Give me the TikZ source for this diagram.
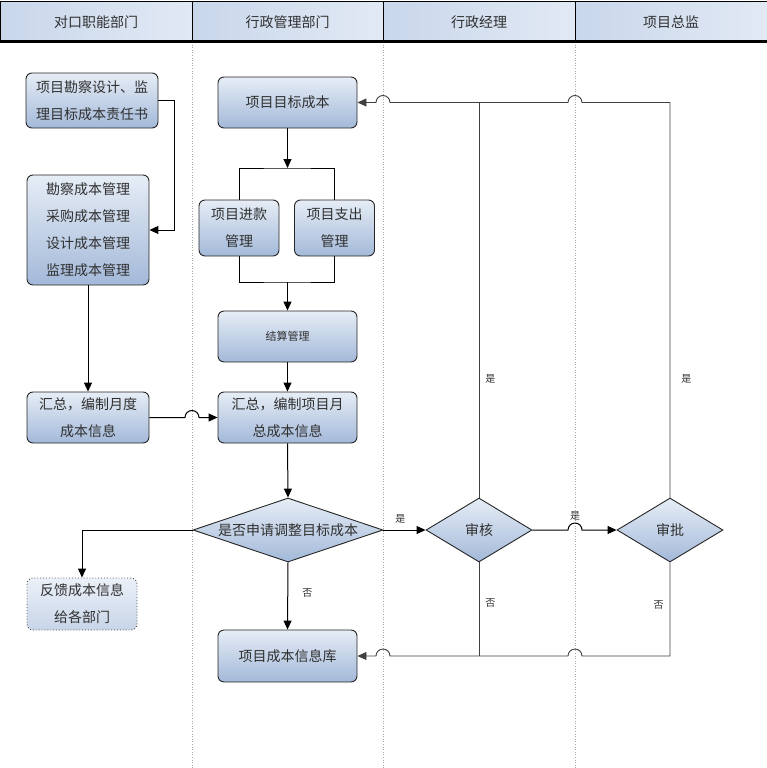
\documentclass[tikz,border=0pt]{standalone}
\usepackage{fontspec}
\setmainfont{Noto Sans CJK SC}
\usetikzlibrary{positioning, arrows.meta, shapes.geometric}

\definecolor{boxtop}{HTML}{E6EDF6}
\definecolor{boxbot}{HTML}{A3B9D9}
\definecolor{headtop}{HTML}{C9D7EB}
\definecolor{txt}{HTML}{303030}

\tikzset{
  box/.style={draw=black!85, line width=0.9pt, rounded corners=6pt,
    top color=boxtop, bottom color=boxbot, text=txt, align=center,
    inner sep=0pt, font=\fontsize{14}{27}\selectfont},
  choice/.style={diamond, draw=black!85, line width=0.9pt,
    top color=boxtop, bottom color=boxbot, text=txt, inner sep=0pt,
    font=\fontsize{14}{17}\selectfont},
  head/.style={draw=black, line width=1pt, left color=headtop, right color=headtop!55!white,
    minimum height=40pt, inner sep=0pt, text=txt, font=\fontsize{14}{16}\selectfont},
  flow/.style={->, line width=1pt},
  back/.style={line width=0.9pt, draw=black!75},
  tag/.style={text=txt, font=\fontsize{10}{12}\selectfont, inner sep=0pt},
  lane/.style={draw=black!35, dotted, line width=0.6pt},
}

\begin{document}
\begin{tikzpicture}[x=1pt, y=1pt, >={Triangle[length=9pt,width=8pt]}]
    \useasboundingbox (0,0) rectangle (767,-768);

    % Lanes
    \foreach \lx in {192, 383, 575}
      \draw[lane] (\lx,-42) -- (\lx,-768);

    % Header
    \node[head, minimum width=192pt] (h1) at (96,-22) {对口职能部门};
    \node[head, minimum width=191pt] (h2) at (287.5,-22) {行政管理部门};
    \node[head, minimum width=192pt] (h3) at (479,-22) {行政经理};
    \node[head, minimum width=192pt] (h4) at (671,-22) {项目总监};
    \draw[line width=3pt] (0,-42) -- (767,-42);

    % Left lane
    \node[box, minimum width=132pt, minimum height=55pt] (zeren) at (92,-100.5) {项目勘察设计、监\\理目标成本责任书};
    \node[box, minimum width=122pt, minimum height=110pt] (fenxiang) at (88,-230) {勘察成本管理\\采购成本管理\\设计成本管理\\监理成本管理};
    \node[box, minimum width=122pt, minimum height=51pt] (yuedu) at (88,-417.5) {汇总，编制月度\\成本信息};
    \node[box, dotted, draw=black!70, top color=boxtop!80!white, bottom color=boxbot!60!white,
      minimum width=110pt, minimum height=52pt] (fankui) at (82,-604) {反馈成本信息\\给各部门};

    % Middle lane
    \node[box, minimum width=139pt, minimum height=51pt] (mubiao) at (287.5,-102.5) {项目目标成本};
    \node[box, minimum width=80pt, minimum height=56pt] (jinkuan) at (239,-228) {项目进款\\管理};
    \node[box, minimum width=80pt, minimum height=56pt] (zhichu) at (334.5,-228) {项目支出\\管理};
    \node[box, minimum width=139pt, minimum height=51pt, font=\fontsize{11}{13}\selectfont] (jiesuan) at (287.5,-336.5) {结算管理};
    \node[box, minimum width=139pt, minimum height=51pt] (zongbiao) at (287.5,-417.5) {汇总，编制项目月\\总成本信息};
    \node[choice, minimum width=190pt, minimum height=64pt] (tiaozheng) at (288,-530) {\makebox[0pt]{是否申请调整目标成本}};
    \node[box, minimum width=139pt, minimum height=52pt] (xinxiku) at (287.5,-656) {项目成本信息库};

    % Right lanes
    \node[choice, minimum width=106pt, minimum height=64pt] (shenhe) at (479,-530) {\makebox[0pt]{审核}};
    \node[choice, minimum width=106pt, minimum height=64pt] (shenpi) at (670,-530) {\makebox[0pt]{审批}};

    % Split and merge points
    \coordinate (fen) at (287.5,-168);
    \coordinate (he) at (287.5,-282);

    % Connectors
    \draw[flow] (zeren.east) -- ++(16,0) |- (fenxiang.east);
    \draw[flow] (fenxiang.south) -- (yuedu.north);
    \draw[flow] (yuedu.east) -- (185,-417.5) arc (180:0:7) -- (zongbiao.west);
    \draw[flow] (mubiao.south) -- (fen);
    \draw[line width=1pt] (jinkuan.north) |- (fen) -| (zhichu.north);
    \draw[line width=1pt] (jinkuan.south) |- (he) -| (zhichu.south);
    \draw[flow] (he) -- (jiesuan.north);
    \draw[flow] (jiesuan.south) -- (zongbiao.north);
    \draw[flow] (zongbiao.south) -- (tiaozheng.north);
    \draw[flow] (tiaozheng.west) -| (fankui.north);
    \draw[flow] (tiaozheng.south) -- node[tag, right=14pt, pos=0.45] {否} (xinxiku.north);
    \draw[flow] (tiaozheng.east) -- node[tag, above=6pt, pos=0.4] {是} (shenhe.west);
    \draw[flow] (shenhe.east) -- (568,-530) arc (180:0:7) node[tag, above=2pt, pos=0.5] {是} -- (shenpi.west);

    % Approval loops
    \coordinate (shang) at (479,-102.5);
    \coordinate (xia) at (479,-656);
    \draw[back] (shenhe.north) -- node[tag, right=6pt, pos=0.3] {是} (shang);
    \draw[back] (shenpi.north) -- node[tag, right=11pt, pos=0.3] {是} (670,-102.5) -- (582,-102.5) arc (0:180:7) -- (shang);
    \draw[flow, back] (shang) -- (390,-102.5) arc (0:180:7) -- (mubiao.east);
    \draw[back] (shenhe.south) -- node[tag, right=6pt, pos=0.43] {否} (xia);
    \draw[back] (shenpi.south) -- node[tag, left=6pt, pos=0.45] {否} (670,-656) -- (582,-656) arc (0:180:7) -- (xia);
    \draw[flow, back] (xia) -- (390,-656) arc (0:180:7) -- (xinxiku.east);

\end{tikzpicture}
\end{document}
